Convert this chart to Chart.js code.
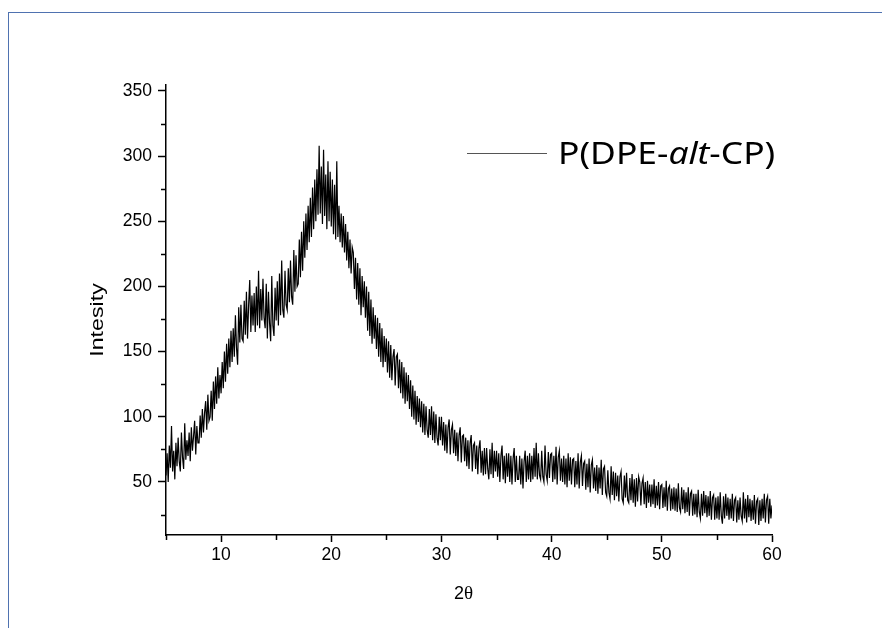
<!DOCTYPE html>
<html>
<head>
<meta charset="utf-8">
<script src="https://cdn.jsdelivr.net/npm/chart.js@4.4.1/dist/chart.umd.min.js"></script>
<style>
  html, body { margin: 0; padding: 0; background: #fff; }
  #wrap { position: relative; width: 882px; height: 628px; overflow: hidden; }
  #frame { position: absolute; left: 8px; top: 12px; right: -2px; bottom: -2px;
           border-top: 1px solid #4f72b0; border-left: 1px solid #4f72b0; pointer-events: none; }
  canvas { position: absolute; left: 0; top: 0; }
</style>
</head>
<body>
<div id="wrap">
  <canvas id="c" width="882" height="628"></canvas>
  <div id="frame"></div>
</div>
<script>
// ---- data ----
const seriesLabel = "P(DPE-alt-CP)";
const xStart = 5;      // 2θ of first sample
const xStep = 0.1;     // sampling step in 2θ
const intensity = [
  55, 72, 50, 78, 61, 93, 58, 74, 52, 80,
  62, 84, 66, 58, 88, 69, 60, 95, 67, 82,
  70, 88, 66, 92, 74, 85, 97, 71, 93, 80,
  80, 101, 84, 106, 88, 103, 112, 90, 117, 97,
  100, 120, 97, 127, 106, 131, 110, 138, 114, 132,
  118, 142, 122, 150, 127, 156, 133, 160, 138, 166,
  142, 168, 146, 178, 153, 140, 184, 157, 186, 160,
  158, 189, 163, 196, 160, 186, 205, 165, 193, 170,
  195, 165, 200, 170, 212, 168, 198, 174, 206, 176,
  168, 202, 160, 196, 172, 158, 208, 170, 162, 199,
  174, 204, 170, 210, 178, 220, 182, 176, 212, 186,
  182, 214, 188, 220, 192, 186, 228, 196, 224, 200,
  202, 236, 207, 242, 212, 250, 222, 256, 228, 262,
  234, 268, 238, 276, 244, 282, 250, 290, 255, 308,
  256, 292, 248, 305, 254, 286, 244, 296, 250, 288,
  246, 282, 240, 278, 236, 296, 238, 262, 234, 256,
  230, 254, 226, 248, 220, 242, 214, 236, 210, 230,
  226, 198, 222, 190, 218, 186, 214, 178, 208, 184,
  204, 176, 200, 166, 196, 162, 190, 156, 184, 160,
  178, 152, 176, 146, 172, 142, 168, 138, 162, 142,
  160, 134, 158, 130, 155, 128, 146, 152, 124, 146,
  148, 122, 144, 118, 142, 114, 138, 110, 134, 112,
  132, 106, 128, 100, 124, 98, 120, 94, 116, 96,
  114, 92, 112, 88, 110, 86, 108, 90, 84, 106,
  86, 108, 82, 104, 80, 102, 84, 78, 100, 82,
  100, 78, 96, 74, 94, 72, 92, 98, 71, 90,
  94, 72, 90, 70, 88, 66, 86, 92, 65, 85,
  86, 66, 84, 62, 82, 60, 80, 86, 58, 78,
  80, 60, 78, 56, 76, 82, 57, 74, 55, 76,
  56, 76, 60, 52, 75, 56, 80, 53, 74, 58,
  74, 54, 72, 50, 70, 78, 52, 70, 49, 72,
  54, 72, 50, 70, 48, 68, 76, 50, 70, 52,
  52, 70, 48, 68, 45, 66, 74, 50, 70, 52,
  72, 50, 70, 52, 76, 54, 80, 52, 72, 55,
  52, 74, 54, 50, 78, 56, 51, 73, 53, 71,
  72, 50, 70, 52, 77, 48, 69, 74, 51, 68,
  50, 70, 48, 68, 46, 72, 51, 69, 48, 67,
  68, 46, 66, 48, 72, 45, 65, 70, 47, 64,
  66, 44, 64, 46, 68, 42, 63, 67, 45, 61,
  43, 63, 41, 61, 45, 67, 40, 60, 62, 42,
  39, 59, 42, 37, 62, 40, 58, 36, 57, 39,
  55, 35, 54, 58, 37, 34, 55, 38, 57, 36,
  34, 53, 36, 56, 34, 52, 31, 53, 35, 54,
  50, 32, 49, 53, 33, 50, 30, 51, 34, 48,
  31, 48, 33, 52, 30, 47, 32, 50, 29, 47,
  48, 30, 46, 31, 51, 28, 45, 47, 28, 45,
  29, 46, 28, 45, 27, 49, 30, 27, 46, 29,
  44, 26, 42, 27, 46, 24, 41, 43, 24, 41,
  25, 41, 23, 44, 27, 22, 41, 24, 43, 26,
  40, 23, 39, 24, 43, 21, 38, 40, 21, 38,
  22, 39, 21, 42, 24, 18, 39, 22, 41, 24,
  38, 21, 37, 22, 41, 20, 36, 38, 19, 36,
  21, 38, 24, 20, 42, 22, 37, 19, 40, 23,
  37, 20, 36, 21, 40, 18, 35, 37, 17, 36,
  20, 37, 22, 41, 19, 36, 39, 18, 37, 22,
  32
];
const xMajorTicks = [10, 20, 30, 40, 50, 60];
const xMinorTicks = [5, 15, 25, 35, 45, 55];
const yMajorTicks = [50, 100, 150, 200, 250, 300, 350];
const yMinorTicks = [25, 75, 125, 175, 225, 275, 325];
const xTitleParts = ["2", "θ"];
const yTitle = "Intesity";

const points = intensity.map((v, i) => ({ x: +(xStart + i * xStep).toFixed(2), y: v }));

const TICK_FONT = { family: "'Liberation Sans', Arial, sans-serif", size: 17.5 };

const decor = {
  id: 'decor',
  afterDraw(chart) {
    const ctx = chart.ctx;
    const xs = chart.scales.x, ys = chart.scales.y;
    const ca = chart.chartArea;
    ctx.save();
    // minor ticks
    ctx.strokeStyle = '#000';
    ctx.lineWidth = 1.5;
    ctx.beginPath();
    yMinorTicks.forEach(v => {
      const p = Math.round(ys.getPixelForValue(v)) + 0.5;
      ctx.moveTo(ca.left - 5, p); ctx.lineTo(ca.left, p);
    });
    xMinorTicks.forEach(v => {
      const p = Math.round(xs.getPixelForValue(v)) + 0.5;
      ctx.moveTo(p, ca.bottom); ctx.lineTo(p, ca.bottom + 5);
    });
    ctx.stroke();

    // x axis title: "2" sans + "θ" serif
    ctx.fillStyle = '#000';
    ctx.textBaseline = 'alphabetic';
    ctx.textAlign = 'left';
    const f1 = "18px 'Liberation Sans', Arial, sans-serif";
    const f2 = "19px 'Liberation Serif', 'Times New Roman', serif";
    ctx.font = f1; const w1 = ctx.measureText(xTitleParts[0]).width;
    ctx.font = f2; const w2 = ctx.measureText(xTitleParts[1]).width;
    let tx = 463.5 - (w1 + w2) / 2;
    ctx.font = f1; ctx.fillText(xTitleParts[0], tx, 599);
    ctx.font = f2; ctx.fillText(xTitleParts[1], tx + w1, 599);

    // y axis title
    ctx.save();
    ctx.translate(98, 320);
    ctx.rotate(-Math.PI / 2);
    ctx.scale(1.22, 1);
    ctx.font = "19px 'Liberation Sans', Arial, sans-serif";
    ctx.textAlign = 'center';
    ctx.textBaseline = 'middle';
    ctx.fillText(yTitle, 0, 0);
    ctx.restore();

    // legend
    const ds = chart.data.datasets[0];
    ctx.strokeStyle = '#555';
    ctx.lineWidth = 1;
    ctx.beginPath();
    ctx.moveTo(467, 153.5); ctx.lineTo(547, 153.5);
    ctx.stroke();
    const label = ds.label;
    const i1 = label.indexOf('alt');
    const parts = [
      [label.slice(0, i1), ''],
      ['alt', 'italic '],
      [label.slice(i1 + 3), '']
    ];
    ctx.save();
    ctx.translate(558, 164);
    ctx.scale(1.18, 1);
    ctx.textAlign = 'left';
    ctx.textBaseline = 'alphabetic';
    let x = 0;
    parts.forEach(([t, st]) => {
      ctx.font = st + "30px 'Noto Sans', sans-serif";
      ctx.fillText(t, x, 0);
      x += ctx.measureText(t).width;
    });
    ctx.restore();
    ctx.restore();
  }
};

new Chart(document.getElementById('c'), {
  type: 'line',
  data: {
    datasets: [{
      label: seriesLabel,
      data: points,
      borderColor: '#000',
      borderWidth: 1.2,
      pointRadius: 0,
      tension: 0,
      fill: false
    }]
  },
  options: {
    responsive: false,
    animation: false,
    events: [],
    layout: { padding: { left: 0, top: 85, right: 110, bottom: 0 } },
    plugins: { legend: { display: false }, tooltip: { enabled: false } },
    scales: {
      x: {
        type: 'linear',
        min: 5, max: 60,
        afterBuildTicks: s => { s.ticks = xMajorTicks.map(v => ({ value: v })); },
        afterFit: s => { s.height = 93; },
        grid: { drawOnChartArea: false, drawTicks: true, tickLength: 7, tickColor: '#000', tickWidth: 1.5 },
        border: { display: true, color: '#000', width: 1.5 },
        ticks: { color: '#000', font: TICK_FONT, padding: 3, maxRotation: 0, autoSkip: false }
      },
      y: {
        type: 'linear',
        min: 9.3, max: 354.6,
        afterBuildTicks: s => { s.ticks = yMajorTicks.map(v => ({ value: v })); },
        afterFit: s => { s.width = 166; },
        grid: { drawOnChartArea: false, drawTicks: true, tickLength: 8, tickColor: '#000', tickWidth: 1.5 },
        border: { display: true, color: '#000', width: 1.5 },
        ticks: { color: '#000', font: TICK_FONT, padding: 6, autoSkip: false }
      }
    }
  },
  plugins: [decor]
});
</script>
</body>
</html>
